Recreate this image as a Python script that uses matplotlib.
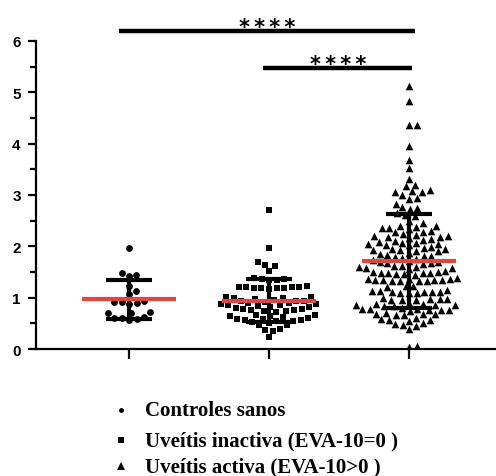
import numpy as np
import matplotlib
matplotlib.use("Agg")
import matplotlib.pyplot as plt
from matplotlib.lines import Line2D

# ---------------- data ----------------
controles = [1.96, 1.48, 1.45, 1.42, 1.23, 1.13, 1.07, 0.94, 0.92, 0.91,
             0.89, 0.87, 0.72, 0.71, 0.70, 0.62, 0.61, 0.60, 0.59, 0.57]

inactiva = [2.70, 1.96, 1.70, 1.64, 1.62, 1.52,
            1.39, 1.37, 1.36, 1.35, 1.34,
            1.22, 1.21, 1.21, 1.20, 1.20, 1.19, 1.19, 1.18, 1.18, 1.17,
            1.02, 1.01, 1.00, 0.99, 0.97, 0.95, 0.94, 0.93,
            0.94, 0.92, 0.90, 0.89, 0.88, 0.87, 0.86, 0.85,
            0.83, 0.82, 0.81, 0.80, 0.79, 0.78, 0.77, 0.76, 0.75, 0.74, 0.73,
            0.67, 0.66, 0.65, 0.64, 0.62, 0.60, 0.59, 0.58, 0.57, 0.56,
            0.55, 0.54, 0.52, 0.50, 0.47, 0.46,
            0.39, 0.37, 0.36, 0.23]

activa = [5.13, 4.82, 4.37, 4.37, 3.95, 3.69, 3.53, 3.31, 3.20, 3.17,
          3.09, 3.07, 3.06, 3.05, 3.00, 2.95, 2.93, 2.83, 2.77, 2.75,
          2.73, 2.65, 2.62, 2.60, 2.50, 2.45, 2.40, 2.39, 2.38, 2.36,
          2.36, 2.33, 2.30, 2.28, 2.27, 2.25, 2.22, 2.20, 2.20, 2.19,
          2.18, 2.17, 2.15, 2.12, 2.10, 2.08, 2.07, 2.06, 2.05, 2.04,
          2.03, 2.02, 1.98, 1.96, 1.95, 1.94, 1.93, 1.92, 1.91, 1.90,
          1.87, 1.85, 1.83, 1.82, 1.81, 1.80, 1.78, 1.76, 1.73, 1.72,
          1.70, 1.69, 1.68, 1.67, 1.66, 1.62, 1.61, 1.60, 1.59, 1.58,
          1.57, 1.56, 1.52, 1.50, 1.50, 1.49, 1.49, 1.48, 1.48, 1.47,
          1.46, 1.45, 1.38, 1.37, 1.36, 1.36, 1.35, 1.35, 1.34, 1.34,
          1.33, 1.33, 1.32, 1.32, 1.23, 1.22, 1.21, 1.15, 1.14, 1.13,
          1.12, 1.12, 1.11, 1.11, 1.10, 1.10, 1.09, 1.00, 0.98, 0.97,
          0.97, 0.96, 0.96, 0.95, 0.90, 0.88, 0.87, 0.86, 0.85, 0.85,
          0.84, 0.83, 0.80, 0.79, 0.78, 0.78, 0.77, 0.76, 0.76, 0.75,
          0.70, 0.69, 0.68, 0.68, 0.67, 0.66, 0.60, 0.58, 0.57, 0.56,
          0.55, 0.50, 0.49, 0.47, 0.45, 0.39, 0.06, 0.05]

grupos = [controles, inactiva, activa]
marcadores = ["o", "s", "^"]
leyenda = ["Controles sanos", "Uveítis inactiva (EVA-10=0 )", "Uveítis activa (EVA-10>0 )"]
estrellas = "*\u2009*\u2009*\u2009*"

RED = "#e2453b"

# ---------------- figure ----------------
fig = plt.figure(figsize=(4.96, 4.77), dpi=100)
ax = fig.add_axes([0.0726, 0.266, 0.9274, 0.6463])
ax.set_xlim(0.336, 3.62)
ax.set_ylim(0, 6)


def swarm_offsets(vals, xc, d_px):
    # simple beeswarm: place each point as close to the centre as possible
    pts = ax.transData.transform(np.column_stack([np.full(len(vals), xc), vals]))
    order = np.argsort(vals)
    placed = []
    xs = np.zeros(len(vals))
    for i in order:
        x0, y0 = pts[i]
        cands = [0.0]
        for px, py in placed:
            dy = y0 - py
            if abs(dy) < d_px:
                dx = np.sqrt(d_px ** 2 - dy ** 2)
                cands += [px + dx + 0.01, px - dx - 0.01]
        cands = sorted(cands, key=abs)
        for c in cands:
            ok = all((c - px) ** 2 + (y0 - py) ** 2 >= d_px ** 2 - 1e-6 for px, py in placed)
            if ok:
                break
        placed.append((c, y0))
        xs[i] = c
    x_data = ax.transData.inverted().transform(
        np.column_stack([pts[:, 0] + xs, pts[:, 1]]))[:, 0]
    return x_data


for k, (vals, m) in enumerate(zip(grupos, marcadores)):
    xc = k + 1
    v = np.array(vals)
    xs = swarm_offsets(v, xc, 7.6)
    ax.scatter(xs, v, marker=m, s=24 if m != "^" else 30, color="black",
               linewidths=0, zorder=2)
    mean, sd = v.mean(), v.std(ddof=1)
    ax.plot([xc, xc], [mean - sd, mean + sd], color="black", lw=3, zorder=3,
            solid_capstyle="butt")
    for yv in (mean - sd, mean + sd):
        ax.plot([xc - 0.164, xc + 0.164], [yv, yv], color="black", lw=3, zorder=3,
                solid_capstyle="butt")
    ax.plot([xc - 0.335, xc + 0.335], [mean, mean], color=RED, lw=3, zorder=4,
            solid_capstyle="butt")

# significance bars
ax.plot([0.93, 3.04], [6.2, 6.2], color="black", lw=3.2, clip_on=False,
        solid_capstyle="butt")
ax.text(1.985, 6.15, estrellas, ha="center", va="baseline", fontsize=15,
        fontweight="bold", clip_on=False)
ax.plot([1.96, 3.02], [5.48, 5.48], color="black", lw=3.2, clip_on=False,
        solid_capstyle="butt")
ax.text(2.49, 5.43, estrellas, ha="center", va="baseline", fontsize=15,
        fontweight="bold", clip_on=False)

# axes styling
for s in ("top", "right"):
    ax.spines[s].set_visible(False)
ax.spines["left"].set_linewidth(1.6)
ax.spines["bottom"].set_linewidth(1.6)
ax.set_yticks(range(7))
ax.set_yticks(np.arange(0.5, 6, 1), minor=True)
ax.set_xticks([1, 2, 3])
ax.set_xticklabels([])
ax.tick_params(axis="y", which="major", length=6, width=1.6, pad=5)
ax.tick_params(axis="y", which="minor", length=4, width=1.6)
ax.tick_params(axis="x", which="major", length=7, width=1.6)
for lab in ax.get_yticklabels():
    lab.set_fontfamily("Liberation Sans")
    lab.set_fontweight("bold")
    lab.set_fontsize(11)

# legend as text below the plot
ys = [411, 441, 467]
tamanos = [3.5, 4.2, 5.2]
for m, ms, lab, y in zip(marcadores, tamanos, leyenda, ys):
    yf = 1 - y / 477
    fig.add_artist(Line2D([121 / 496], [yf], transform=fig.transFigure,
                          marker=m, ms=ms, color="black", lw=0, mew=0))
    fig.text(145 / 496, yf, lab, ha="left", va="center", fontsize=15,
             fontweight="bold", family="Liberation Serif")

fig.savefig("out.png", dpi=100)
